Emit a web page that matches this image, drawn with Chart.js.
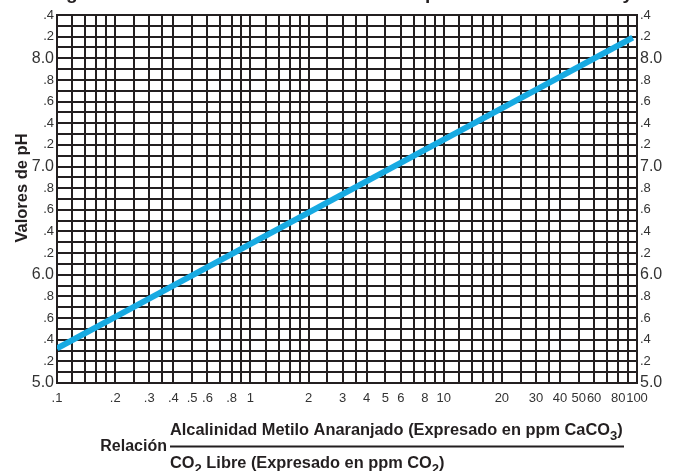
<!DOCTYPE html>
<html>
<head>
<meta charset="utf-8">
<script src="https://cdn.jsdelivr.net/npm/chart.js@4"></script>
<style>
  body { margin: 0; background: #fff; }
  #wrap { width: 677px; height: 471px; }
</style>
</head>
<body>
<div id="wrap"><canvas id="myChart" width="677" height="471"></canvas></div>
<script>
// relation (alkalinity / free CO2) vs pH
const ratio = [0.1, 95];
const phValues = [5.32, 8.19];

// vertical grid lines of the log paper
const xGrid = [
    0.1, 0.12, 0.14, 0.16, 0.18, 0.2, 0.25, 0.3, 0.35, 0.4, 0.5, 0.6, 0.7, 0.8, 0.9,
    1, 1.2, 1.4, 1.6, 1.8, 2, 2.5, 3, 3.5, 4, 5, 6, 7, 8, 9,
    10, 12, 14, 16, 18, 20, 25, 30, 35, 40, 50, 60, 70, 80, 90, 100
];
const xLabelValues = [0.1, 0.2, 0.3, 0.4, 0.5, 0.6, 0.8, 1, 2, 3, 4, 5, 6, 8, 10, 20, 30, 40, 50, 60, 80, 100];
const xLabels = ['.1', '.2', '.3', '.4', '.5', '.6', '.8', '1', '2', '3', '4', '5', '6', '8', '10', '20', '30', '40', '50', '60', '80', '100'];

const yMin = 5.0;
const yMax = 8.4;

const titleText = 'Diagrama de Relación entre los Valores de pH con la Alcalinidad y CO₂';
const yTitle = 'Valores de pH';
const relLabel = 'Relación';
const numerParts = [['Alcalinidad Metilo Anaranjado (Expresado en ppm CaCO', 0], ['3', 1], [')', 0]];
const denomParts = [['CO', 0], ['2', 1], [' Libre (Expresado en ppm CO', 0], ['2', 1], [')', 0]];

const ink = '#231f20';
const FONT = 'Arial, "Liberation Sans", sans-serif';

function yLabel(v) {
    const t = Math.round(v * 10);
    if (t % 2 !== 0) return '';
    if (t % 10 === 0) return (t / 10).toFixed(1);
    return '.' + (t % 10);
}

function yFont(ctx) {
    const v = ctx.tick ? ctx.tick.value : 0;
    const t = Math.round(v * 10);
    return { family: FONT, size: t % 10 === 0 ? 16 : 13 };
}

function richWidth(c, parts, size) {
    let w = 0;
    parts.forEach(p => {
        c.font = 'bold ' + (p[1] ? size * 0.8 : size) + 'px ' + FONT;
        w += c.measureText(p[0]).width;
    });
    return w;
}

function drawRich(c, parts, x, y, size) {
    parts.forEach(p => {
        const s = p[1] ? size * 0.8 : size;
        c.font = 'bold ' + s + 'px ' + FONT;
        c.fillText(p[0], x, y + (p[1] ? size * 0.28 : 0));
        x += c.measureText(p[0]).width;
    });
}

const labelsPlugin = {
    id: 'labelsPlugin',
    afterDraw(chart) {
        const c = chart.ctx;
        c.save();
        c.fillStyle = ink;
        c.textBaseline = 'alphabetic';
        c.textAlign = 'left';

        // title, cut off at the top of the picture
        c.font = 'bold 19px ' + FONT;
        const gOffset = c.measureText('Dia').width;
        c.fillText(titleText, 66 - gOffset, -1);

        // y axis title
        c.save();
        c.translate(22, 188);
        c.rotate(-Math.PI / 2);
        c.textAlign = 'center';
        c.textBaseline = 'middle';
        c.font = 'bold 16.5px ' + FONT;
        c.fillText(yTitle, 0, 0);
        c.restore();

        // x axis title as a fraction
        const x0 = 170, x1 = 624, lineY = 446.5;
        let size = 13;
        size = size * (x1 - x0 - 1) / richWidth(c, numerParts, size);
        c.textBaseline = 'alphabetic';
        drawRich(c, numerParts, x0, 435, size);
        drawRich(c, denomParts, x0, 468, size);
        c.font = 'bold 16px ' + FONT;
        c.textBaseline = 'middle';
        c.textAlign = 'right';
        c.fillText(relLabel, x0 - 3, lineY);
        c.strokeStyle = ink;
        c.lineWidth = 2;
        c.beginPath();
        c.moveTo(x0, lineY);
        c.lineTo(x1, lineY);
        c.stroke();
        c.restore();
    }
};

document.addEventListener('DOMContentLoaded', () => {
    const ctx = document.getElementById('myChart');
    new Chart(ctx, {
        type: 'scatter',
        data: {
            datasets: [{
                label: 'pH',
                data: ratio.map((r, i) => ({ x: r, y: phValues[i] })),
                showLine: true,
                borderColor: '#17aae2',
                borderWidth: 6,
                pointRadius: 0,
                yAxisID: 'y'
            }]
        },
        plugins: [labelsPlugin],
        options: {
            responsive: false,
            animation: false,
            layout: { padding: { top: 15, left: 0, right: 0, bottom: 0 } },
            scales: {
                x: {
                    type: 'logarithmic',
                    min: 0.1,
                    max: 100,
                    afterBuildTicks: s => { s.ticks = xGrid.map(v => ({ value: v })); },
                    afterFit: s => { s.height = 88; },
                    grid: { color: ink, lineWidth: 2, drawTicks: false },
                    border: { color: ink, width: 2 },
                    ticks: {
                        autoSkip: false,
                        maxRotation: 0,
                        padding: 8,
                        color: '#333',
                        font: { family: FONT, size: 13 },
                        callback: v => {
                            const i = xLabelValues.findIndex(l => Math.abs(l - v) < v * 1e-6);
                            return i >= 0 ? xLabels[i] : '';
                        }
                    }
                },
                y: {
                    min: yMin,
                    max: yMax,
                    afterBuildTicks: s => {
                        const t = [];
                        for (let k = Math.round(yMin * 10); k <= Math.round(yMax * 10); k++) t.push({ value: k / 10 });
                        s.ticks = t;
                    },
                    afterFit: s => { s.width = 57; },
                    grid: { color: ink, lineWidth: 2, drawTicks: false },
                    border: { color: ink, width: 2 },
                    ticks: { padding: 3, color: '#333', font: yFont, callback: yLabel, autoSkip: false }
                },
                y2: {
                    position: 'right',
                    min: yMin,
                    max: yMax,
                    afterBuildTicks: s => {
                        const t = [];
                        for (let k = Math.round(yMin * 10); k <= Math.round(yMax * 10); k++) t.push({ value: k / 10 });
                        s.ticks = t;
                    },
                    afterFit: s => { s.width = 40; },
                    grid: { display: false, drawTicks: false },
                    border: { color: ink, width: 2 },
                    ticks: { padding: 3, color: '#333', font: yFont, callback: yLabel, autoSkip: false }
                }
            },
            plugins: {
                legend: { display: false },
                tooltip: { enabled: false }
            }
        }
    });
});
</script>
</body>
</html>
